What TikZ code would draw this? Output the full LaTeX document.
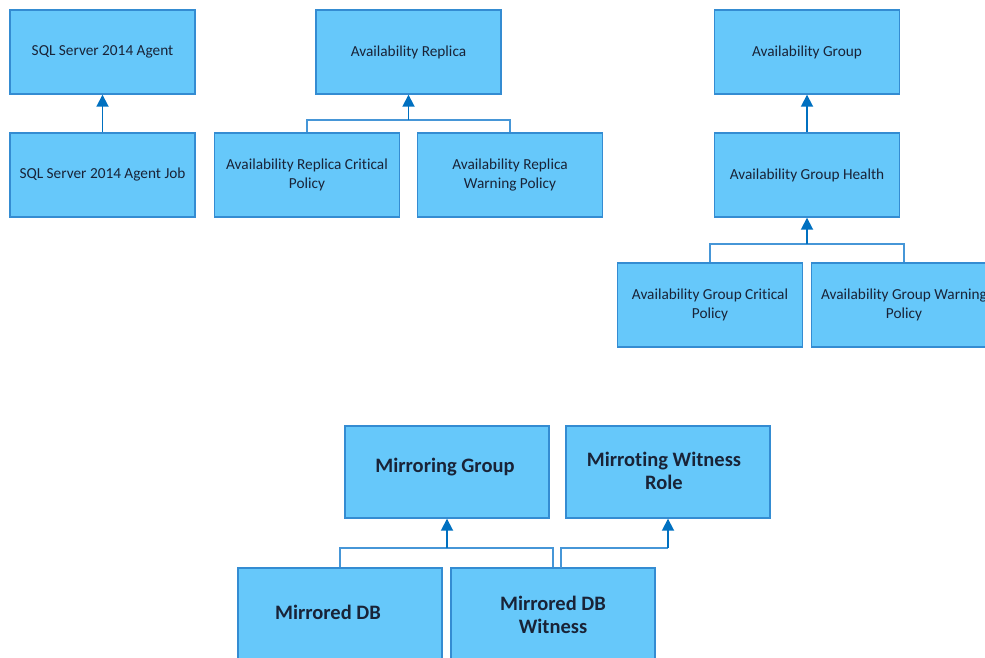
\documentclass[tikz,border=0pt]{standalone}
\usepackage{fontspec}
\setmainfont[RawFeature=-liga]{Carlito}
\usetikzlibrary{arrows.meta,calc}
\definecolor{boxfill}{RGB}{102,200,250}
\definecolor{boxline}{RGB}{52,140,210}
\definecolor{connline}{RGB}{70,150,215}
\definecolor{arrowc}{RGB}{0,112,192}
\definecolor{txt}{RGB}{25,35,55}
\tikzset{
  x=1pt,y=-1pt,
  smallbox/.style={draw=boxline,fill=boxfill,line width=1.4pt,minimum width=185pt,minimum height=84pt,
    inner sep=0pt,align=center,text=txt,font=\fontsize{15.3}{19}\selectfont},
  bigbox/.style={draw=boxline,fill=boxfill,line width=1.4pt,minimum width=204pt,minimum height=92pt,
    inner sep=0pt,align=center,text=txt,font=\fontsize{20.5}{23}\selectfont\bfseries},
  bigtext/.style={inner sep=0pt,align=center,text=txt,font=\fontsize{20.5}{23}\selectfont\bfseries},
  conn/.style={draw=connline,line width=1.6pt},
  arr/.style={draw=arrowc,line width=1.8pt,-{Triangle[width=12pt,length=12pt]}},
}
\begin{document}
\begin{tikzpicture}
\useasboundingbox (0,0) rectangle (985,658);
\begin{scope}
\clip (0,0) rectangle (985,658);
% top left
\node[smallbox] (sqa) at (102.5,52) {SQL Server 2014 Agent};
\node[smallbox] (sqj) at (102.5,175) {SQL Server 2014 Agent Job};
% availability replica
\node[smallbox] (ar) at (408.5,52) {Availability Replica};
\node[smallbox] (arc) at (307,175) {Availability Replica Critical\\Policy};
\node[smallbox] (arw) at (510,175) {Availability Replica\\Warning Policy};
% availability group
\node[smallbox] (ag) at (807,52) {Availability Group};
\node[smallbox] (agh) at (807,175) {Availability Group Health};
\node[smallbox] (agc) at (710,305) {Availability Group Critical\\Policy};
\node[smallbox] (agw) at (904,305) {Availability Group Warning\\Policy};
% mirroring
\node[bigbox] (mg) at (447,472) {};
\node[bigtext] (mgt) at (445,467) {Mirroring Group};
\node[bigbox] (mwr) at (668,472) {};
\node[bigtext] (mwrt) at (664,471) {Mirroting Witness\\Role};
\node[bigbox] (mdb) at (340,614) {};
\node[bigtext] (mdbt) at (328,612) {Mirrored DB};
\node[bigbox] (mdbw) at (553,614) {};
\node[bigtext] (mdbwt) at (553,615) {Mirrored DB\\Witness};

% connectors
\draw[arr] (sqj.north) -- (sqa.south);

\coordinate (j1) at (408.5,120);
\draw[conn] (arc.north) |- (j1) -| (arw.north);
\draw[arr] (j1) -- (ar.south);

\draw[arr] (agh.north) -- (ag.south);
\coordinate (j2) at (807,244);
\draw[conn] (agc.north) |- (j2) -| (agw.north);
\draw[arr] (j2) -- (agh.south);

\coordinate (j3) at (447,548);
\draw[conn] (mdb.north) |- (j3) -| (mdbw.north);
\draw[arr] (j3) -- (mg.south);
\coordinate (m1) at (561,568);
\coordinate (j4) at (668,548);
\draw[conn] (m1) |- (j4);
\draw[arr] (j4) -- (mwr.south);
\end{scope}
\end{tikzpicture}
\end{document}
